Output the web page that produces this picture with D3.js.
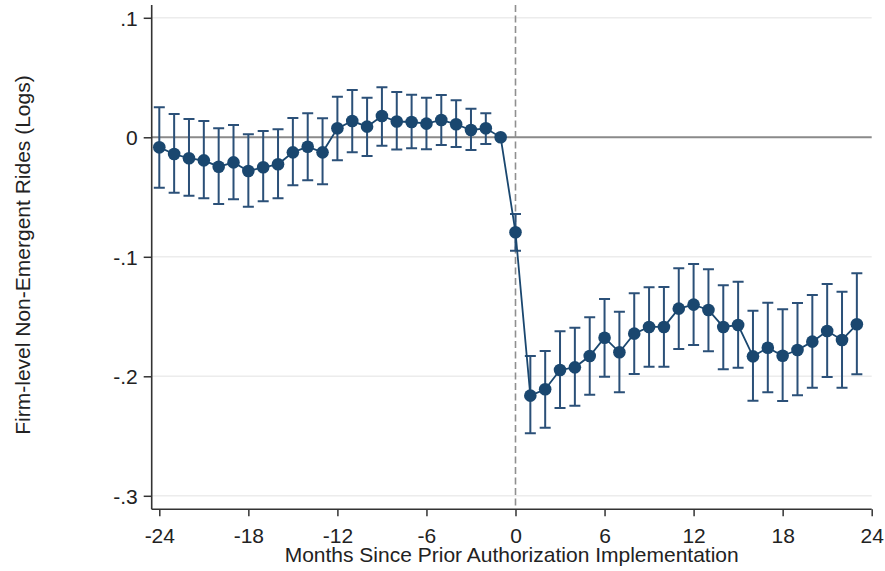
<!DOCTYPE html>
<html>
<head>
<meta charset="utf-8">
<script src="https://cdn.jsdelivr.net/npm/d3@7"></script>
<style>
  html, body { margin: 0; padding: 0; background: #ffffff; }
  svg { display: block; }
  text { font-family: "Liberation Sans", Arial, sans-serif; fill: #222; }
</style>
</head>
<body>
<svg id="chart" width="885" height="571"></svg>
<script>
// Event-study estimates: months relative to implementation (month -1 is the omitted reference)
const months = [-24,-23,-22,-21,-20,-19,-18,-17,-16,-15,-14,-13,-12,-11,-10,-9,-8,-7,-6,-5,-4,-3,-2,-1,
                0,1,2,3,4,5,6,7,8,9,10,11,12,13,14,15,16,17,18,19,20,21,22,23];
const coef = [-0.0084,-0.0140,-0.0176,-0.0193,-0.0246,-0.0210,-0.0282,-0.0251,-0.0226,-0.0126,-0.0079,-0.0126,
              0.0075,0.0136,0.0089,0.0178,0.0132,0.0128,0.0114,0.0145,0.0109,0.0061,0.0075,0.0000,
              -0.0795,-0.2162,-0.2109,-0.1947,-0.1925,-0.1830,-0.1677,-0.1799,-0.1643,-0.1587,-0.1587,-0.1434,
              -0.1400,-0.1445,-0.1587,-0.1571,-0.1833,-0.1761,-0.1828,-0.1780,-0.1710,-0.1621,-0.1696,-0.1565];
const ciLow = [-0.0422,-0.0464,-0.0490,-0.0510,-0.0558,-0.0519,-0.0581,-0.0536,-0.0510,-0.0402,-0.0360,-0.0393,
               -0.0193,-0.0126,-0.0156,-0.0070,-0.0103,-0.0092,-0.0100,-0.0064,-0.0081,-0.0106,-0.0056,null,
               -0.0949,-0.2477,-0.2430,-0.2265,-0.2246,-0.2154,-0.2003,-0.2134,-0.1981,-0.1920,-0.1920,-0.1772,
               -0.1738,-0.1791,-0.1941,-0.1928,-0.2204,-0.2134,-0.2207,-0.2159,-0.2095,-0.2006,-0.2095,-0.1983];
const ciHigh = [0.0251,0.0195,0.0153,0.0136,0.0075,0.0103,0.0025,0.0053,0.0067,0.0162,0.0201,0.0159,
                0.0340,0.0396,0.0331,0.0418,0.0380,0.0357,0.0331,0.0354,0.0310,0.0239,0.0201,null,
                -0.0642,-0.1830,-0.1788,-0.1623,-0.1593,-0.1506,-0.1353,-0.1459,-0.1306,-0.1255,-0.1253,-0.1096,
                -0.1060,-0.1105,-0.1239,-0.1208,-0.1451,-0.1384,-0.1439,-0.1387,-0.1320,-0.1228,-0.1292,-0.1138];

const xTicks = [-24,-18,-12,-6,0,6,12,18,24];
const yTicks = [0.1, 0, -0.1, -0.2, -0.3];
const yTickLabels = [".1", "0", "-.1", "-.2", "-.3"];
const xTitle = "Months Since Prior Authorization Implementation";
const yTitle = "Firm-level Non-Emergent Rides (Logs)";

const navy = "#1a476f";
const svg = d3.select("#chart");

const plotLeft = 151.7, plotRight = 871.7, plotTop = 5, plotBottom = 509.3;

const x = d3.scaleLinear().domain([-24.512, 24]).range([plotLeft, plotRight]);
const y = d3.scaleLinear().domain([-0.3113, 0.1107]).range([plotBottom, plotTop]);

const rows = months.map((m, i) => ({ m, b: coef[i], lo: ciLow[i], hi: ciHigh[i] }));

// horizontal grid lines (zero gets a reference line instead)
svg.append("g")
  .selectAll("line")
  .data(yTicks.filter(v => v !== 0))
  .join("line")
  .attr("x1", plotLeft).attr("x2", plotRight)
  .attr("y1", d => y(d)).attr("y2", d => y(d))
  .attr("stroke", "#ececec").attr("stroke-width", 1.5);

// zero reference line
svg.append("line")
  .attr("x1", plotLeft).attr("x2", plotRight)
  .attr("y1", y(0)).attr("y2", y(0))
  .attr("stroke", "#8a8a8a").attr("stroke-width", 2);

// implementation date marker
svg.append("line")
  .attr("x1", x(0)).attr("x2", x(0))
  .attr("y1", plotTop).attr("y2", plotBottom)
  .attr("stroke", "#8f8f8f").attr("stroke-width", 1.6)
  .attr("stroke-dasharray", "7,3.5");

// y axis
const yAxis = d3.axisLeft(y)
  .tickValues(yTicks)
  .tickFormat((d, i) => yTickLabels[i])
  .tickSize(8)
  .tickSizeOuter(0);
const gy = svg.append("g").attr("transform", `translate(${plotLeft},0)`).call(yAxis);
gy.select(".domain").attr("d", `M0,${plotTop}V${plotBottom}`).attr("stroke", "#333").attr("stroke-width", 1.6);
gy.selectAll(".tick line").attr("stroke", "#333").attr("stroke-width", 1.5);
gy.selectAll(".tick text")
  .attr("x", -14)
  .attr("dy", "0.36em")
  .style("font-size", "21px")
  .style("font-family", "'Liberation Sans', Arial, sans-serif")
  .attr("fill", "#222");

// x axis
const xAxis = d3.axisBottom(x)
  .tickValues(xTicks)
  .tickFormat(d3.format("d"))
  .tickSize(7)
  .tickSizeOuter(0);
const gx = svg.append("g").attr("transform", `translate(0,${plotBottom})`).call(xAxis);
gx.select(".domain").attr("d", `M${plotLeft},0H${plotRight}`).attr("stroke", "#333").attr("stroke-width", 1.6);
gx.selectAll(".tick line").attr("stroke", "#333").attr("stroke-width", 1.5);
gx.selectAll(".tick text")
  .attr("y", 33.4)
  .attr("dy", 0)
  .style("font-size", "21px")
  .style("font-family", "'Liberation Sans', Arial, sans-serif")
  .attr("fill", "#222")
  .text(d => d < 0 ? "-" + Math.abs(d) : String(d));

// axis titles
svg.append("text")
  .attr("x", (plotLeft + plotRight) / 2)
  .attr("y", 561.7)
  .attr("text-anchor", "middle")
  .style("font-size", "21px")
  .text(xTitle);

svg.append("text")
  .attr("transform", "translate(30,255) rotate(-90)")
  .attr("text-anchor", "middle")
  .style("font-size", "21px")
  .text(yTitle);

// confidence intervals with caps
const ci = rows.filter(d => d.lo !== null);
const capHalf = 5.5;
const gci = svg.append("g").attr("stroke", "#2b5078").attr("stroke-width", 2).attr("fill", "none");
gci.selectAll("path")
  .data(ci)
  .join("path")
  .attr("d", d => {
    const cx = x(d.m), y1 = y(d.hi), y2 = y(d.lo);
    return `M${cx},${y1}V${y2}M${cx - capHalf},${y1}H${cx + capHalf}M${cx - capHalf},${y2}H${cx + capHalf}`;
  });

// connecting line
svg.append("path")
  .datum(rows)
  .attr("fill", "none")
  .attr("stroke", navy)
  .attr("stroke-width", 1.8)
  .attr("d", d3.line().x(d => x(d.m)).y(d => y(d.b)));

// point estimates
svg.append("g")
  .selectAll("circle")
  .data(rows)
  .join("circle")
  .attr("cx", d => x(d.m))
  .attr("cy", d => y(d.b))
  .attr("r", 6.3)
  .attr("fill", navy);
</script>
</body>
</html>
